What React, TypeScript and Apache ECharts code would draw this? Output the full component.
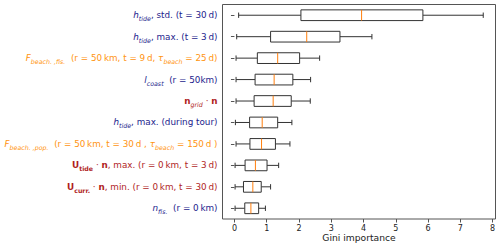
import React, { useEffect, useRef } from "react";
import * as echarts from "echarts";

// ---- data (top to bottom) ----
const categories = [
  "h_tide, std. (t = 30 d)",
  "h_tide, max. (t = 3 d)",
  "F_beach,fis. (r = 50 km, t = 9 d, tau_beach = 25 d)",
  "l_coast (r = 50km)",
  "n_grid · n",
  "h_tide, max. (during tour)",
  "F_beach,pop. (r = 50 km, t = 30 d, tau_beach = 150 d)",
  "U_tide · n, max. (r = 0 km, t = 3 d)",
  "U_curr. · n, min. (r = 0 km, t = 30 d)",
  "n_fis. (r = 0 km)",
];
const whiskerLow = [0.13, 0.07, 0.05, 0.05, 0.05, 0.03, 0.05, 0.02, 0.02, 0.02];
const quartile1 = [2.06, 1.12, 0.71, 0.64, 0.61, 0.47, 0.48, 0.33, 0.28, 0.32];
const medians = [3.94, 2.24, 1.34, 1.23, 1.2, 0.86, 0.84, 0.65, 0.57, 0.51];
const quartile3 = [5.84, 3.27, 2.02, 1.81, 1.76, 1.34, 1.27, 1.01, 0.83, 0.75];
const whiskerHigh = [7.71, 4.26, 2.64, 2.36, 2.35, 1.78, 1.72, 1.37, 1.12, 0.96];
const xTicks = [0, 1, 2, 3, 4, 5, 6, 7, 8];
const xTitle = "Gini importance";

// ---- label formatting (style key prefix = colour, suffix = kind) ----
const T = "\u2009";
const labelSegments: [string, string][][] = [
  [["Ni", "h"], ["Ns", "tide"], ["Nn", `, std. (t = 30${T}d)`]],
  [["Ni", "h"], ["Ns", "tide"], ["Nn", `, max. (t = 3${T}d)`]],
  [["Oi", "F"], ["Os", "beach. ,fis."], ["On", `  (r = 50${T}km, t = 9${T}d, `], ["Oi", "τ"], ["Os", "beach"], ["On", ` = 25${T}d)`]],
  [["Ni", "l"], ["Ns", "coast"], ["Nn", "  (r = 50km)"]],
  [["Rb", "n"], ["Rs", "grid"], ["Rn", " · "], ["Rb", "n"]],
  [["Ni", "h"], ["Ns", "tide"], ["Nn", ", max. (during tour)"]],
  [["Oi", "F"], ["Os", "beach. ,pop."], ["On", `  (r = 50${T}km, t = 30${T}d , `], ["Oi", "τ"], ["Os", "beach"], ["On", ` = 150${T}d )`]],
  [["Rb", "U"], ["Rbs", "tide"], ["Rn", " · "], ["Rb", "n"], ["Rn", `, max. (r = 0${T}km, t = 3${T}d)`]],
  [["Rb", "U"], ["Rbs", "curr."], ["Rn", " · "], ["Rb", "n"], ["Rn", `, min. (r = 0${T}km, t = 30${T}d)`]],
  [["Ni", "n"], ["Ns", "fis."], ["Nn", `  (r = 0${T}km)`]],
];

const FONT = "DejaVu Sans";
const FS = 8.8;
const SUB = 6.3;
const colours: Record<string, string> = { N: "#1c1c8c", O: "#ff9410", R: "#b01e1e" };

function buildRich() {
  const rich: Record<string, any> = {};
  Object.keys(colours).forEach((k) => {
    const c = colours[k];
    rich[k + "n"] = { color: c, fontSize: FS, fontFamily: FONT, lineHeight: 13, verticalAlign: "middle" };
    rich[k + "i"] = { color: c, fontSize: FS, fontFamily: FONT, fontStyle: "italic", lineHeight: 13, verticalAlign: "middle" };
    rich[k + "b"] = { color: c, fontSize: FS, fontFamily: FONT, fontWeight: "bold", lineHeight: 13, verticalAlign: "middle" };
    rich[k + "s"] = { color: c, fontSize: SUB, fontFamily: FONT, fontStyle: "italic", lineHeight: 7.5, verticalAlign: "bottom" };
    rich[k + "bs"] = { color: c, fontSize: SUB, fontFamily: FONT, fontWeight: "bold", lineHeight: 7.5, verticalAlign: "bottom" };
  });
  return rich;
}

export default function App() {
  const ref = useRef<HTMLDivElement>(null);
  useEffect(() => {
    if (!ref.current) return;
    const chart = echarts.init(ref.current, undefined, { renderer: "svg" });
    const data = categories.map((_, i) => [i, whiskerLow[i], quartile1[i], medians[i], quartile3[i], whiskerHigh[i]]);
    const edge = "#333";
    chart.setOption({
      animation: false,
      backgroundColor: "#fff",
      grid: {
        left: 222.5,
        right: 4.5,
        top: 4.5,
        bottom: 28,
        containLabel: false,
        outerBoundsMode: "none",
        show: true,
        borderColor: "#555",
        borderWidth: 1,
        backgroundColor: "transparent",
      },
      xAxis: {
        type: "value",
        min: -0.37,
        max: 8.09,
        splitLine: { show: false },
        axisLine: { show: false },
        axisTick: { show: true, length: 3.5, lineStyle: { color: "#555" }, customValues: xTicks },
        axisLabel: {
          customValues: xTicks,
          color: "#222",
          fontSize: 8,
          fontFamily: FONT,
          margin: 5,
        },
        name: xTitle,
        nameLocation: "middle",
        nameGap: 18,
        nameMoveOverlap: false,
        nameTextStyle: { color: "#222", fontSize: 9.2, fontFamily: FONT, verticalAlign: "middle" },
      },
      yAxis: {
        type: "category",
        inverse: true,
        data: categories,
        axisLine: { show: false },
        axisTick: { show: true, alignWithLabel: true, length: 3.5, lineStyle: { color: "#555" } },
        splitLine: { show: false },
        axisLabel: {
          margin: 5,
          formatter: (_v: string, idx: number) =>
            labelSegments[idx].map(([s, t]) => `{${s}|${t}}`).join(""),
          rich: buildRich(),
        },
      },
      series: [
        {
          type: "custom",
          data,
          encode: { x: [1, 2, 3, 4, 5], y: 0 },
          renderItem: (_params: any, api: any) => {
            const cat = api.value(0);
            const lo = api.coord([api.value(1), cat]);
            const a = api.coord([api.value(2), cat]);
            const m = api.coord([api.value(3), cat]);
            const b = api.coord([api.value(4), cat]);
            const hi = api.coord([api.value(5), cat]);
            const band = api.size([0, 1])[1];
            const h = band * 0.5;
            const ch = band * 0.25;
            const y = lo[1];
            const ls = { stroke: edge, lineWidth: 1, fill: null };
            return {
              type: "group",
              children: [
                { type: "line", shape: { x1: lo[0], y1: y, x2: a[0], y2: y }, style: ls },
                { type: "line", shape: { x1: b[0], y1: y, x2: hi[0], y2: y }, style: ls },
                { type: "line", shape: { x1: lo[0], y1: y - ch / 2, x2: lo[0], y2: y + ch / 2 }, style: ls },
                { type: "line", shape: { x1: hi[0], y1: y - ch / 2, x2: hi[0], y2: y + ch / 2 }, style: ls },
                {
                  type: "rect",
                  shape: { x: a[0], y: y - h / 2, width: b[0] - a[0], height: h },
                  style: { fill: "#fff", stroke: edge, lineWidth: 1 },
                },
                {
                  type: "line",
                  shape: { x1: m[0], y1: y - h / 2, x2: m[0], y2: y + h / 2 },
                  style: { stroke: "#ff7f0e", lineWidth: 1 },
                },
              ],
            };
          },
        },
      ],
    });
    return () => chart.dispose();
  }, []);
  return <div ref={ref} style={{ width: 500, height: 247, position: "absolute", left: 0, top: 0 }} />;
}
